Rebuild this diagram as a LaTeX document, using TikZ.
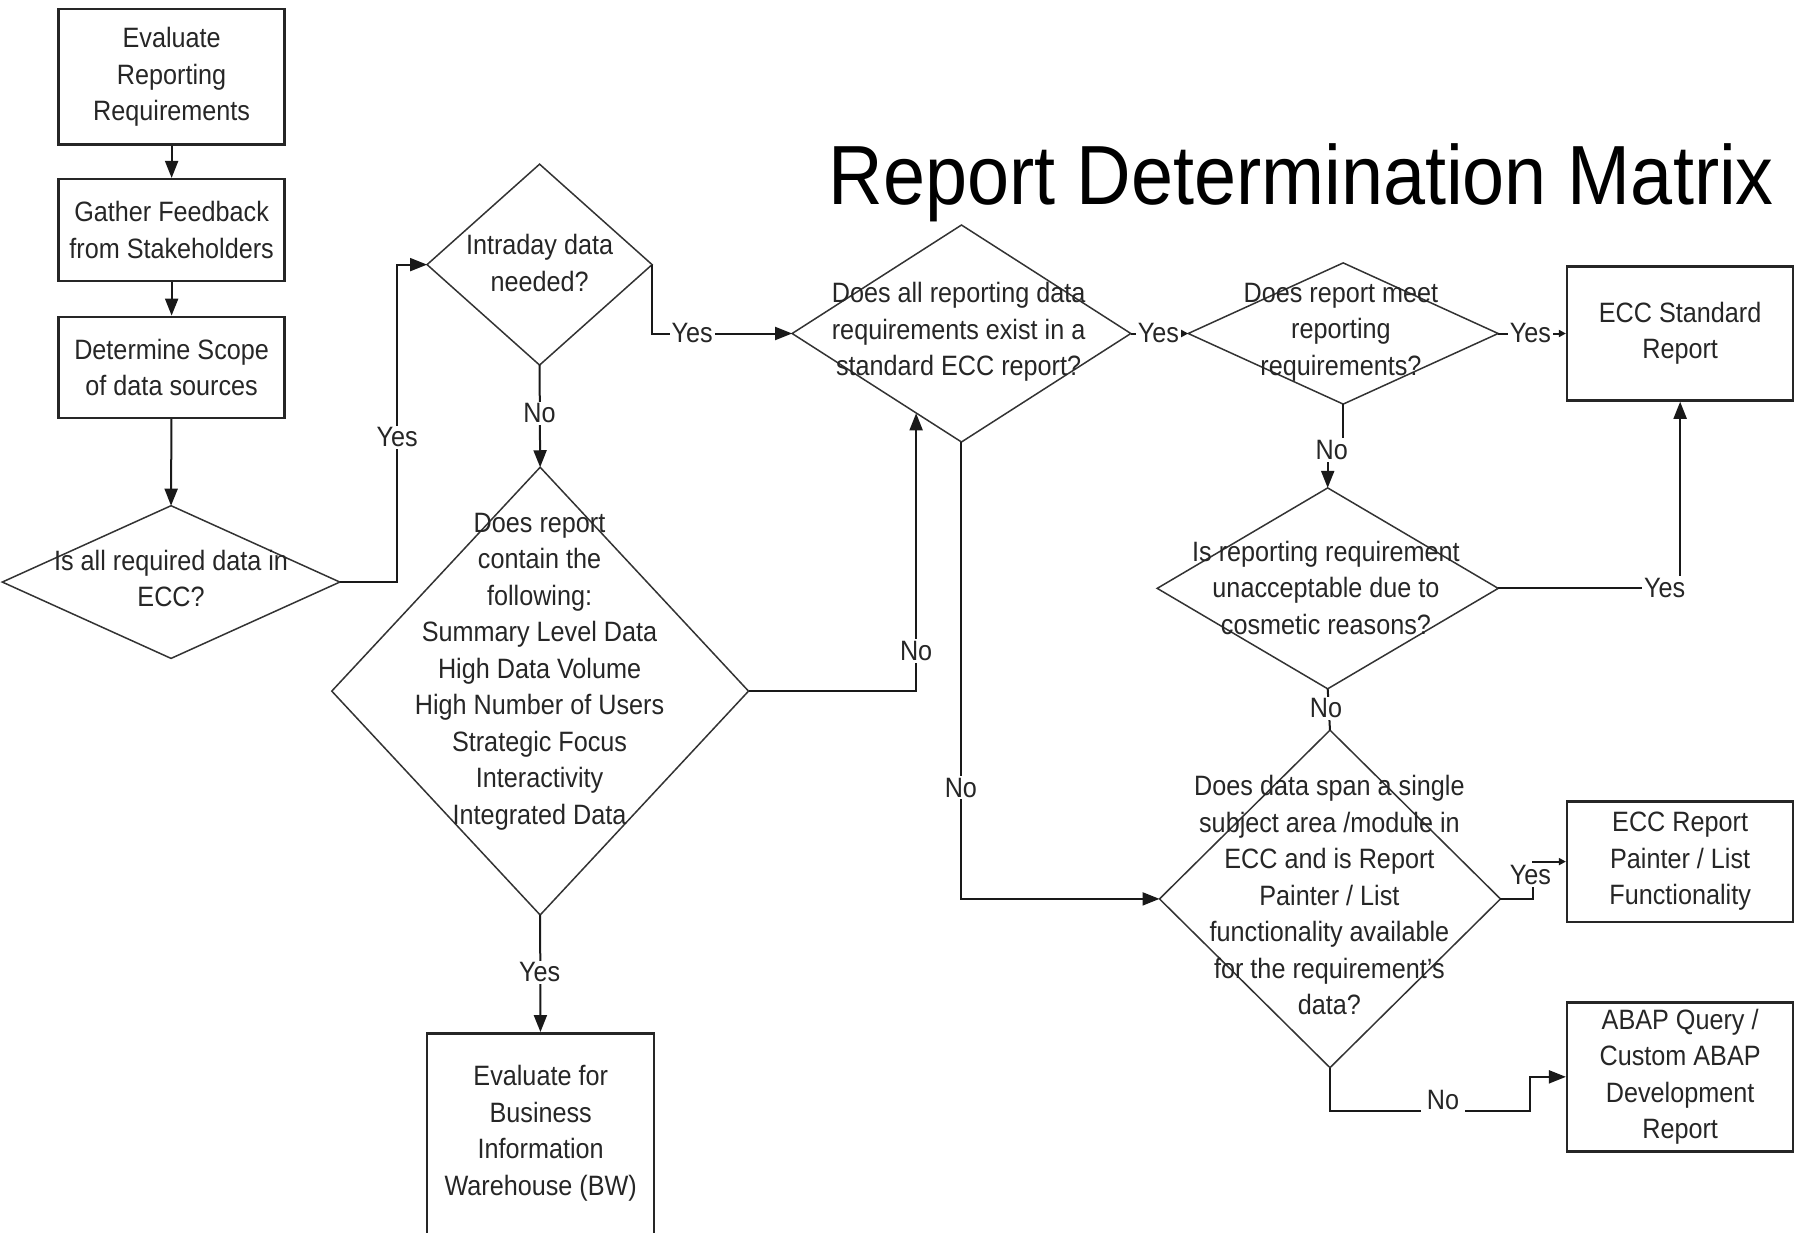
\documentclass[tikz,border=0pt]{standalone}
\usepackage{fontspec}
\setmainfont[FakeStretch=0.9]{Liberation Sans}
\usetikzlibrary{arrows.meta}
\newcommand\mydiamond[5]{%
  \coordinate (#1-c) at (#2,#3);
  \coordinate (#1-w) at ({#2-#4/2},#3);
  \coordinate (#1-e) at ({#2+#4/2},#3);
  \coordinate (#1-n) at (#2,{#3-#5/2});
  \coordinate (#1-s) at (#2,{#3+#5/2});
  \draw[dline] (#1-w) -- (#1-n) -- (#1-e) -- (#1-s) -- cycle;
}
\begin{document}
\begin{tikzpicture}[x=1.148pt,y=-1.148pt,
  txt/.style={font=\fontsize{28pt}{36.5pt}\selectfont, text=black!85, align=center, inner sep=0pt},
  box/.style={txt, draw=black!85, line width=2.5pt, minimum width=226pt},
  dline/.style={draw=black!80, line width=1.5pt, line join=miter},
  lin/.style={draw=black!90, line width=2pt},
  arr/.style={lin, -{Triangle[length=17pt,width=13pt]}},
  sarr/.style={lin, -{Triangle[length=7pt,width=7pt]}},
  lbl/.style={txt, fill=white, inner sep=2pt},
  ttl/.style={font=\fontsize{84pt}{90pt}\selectfont, text=black, inner sep=0pt}]
\useasboundingbox (0,0) rectangle (1565.3,1074);

% title
\node[ttl, anchor=base] (T) at (1133.5,178) {Report Determination Matrix};

% boxes
\node[box, minimum height=135.5pt] (B1) at (149.5,67) {Evaluate\\Reporting\\Requirements};
\node[box, minimum height=102pt] (B2) at (149.5,200.5) {Gather Feedback\\from Stakeholders};
\node[box, minimum height=101pt] (B3) at (149.5,320) {Determine Scope\\of data sources};
\node[box, minimum width=227pt, minimum height=218pt] (BW) at (471,995) {};
\node[txt] (BWt) at (471,987) {Evaluate for\\Business\\Information\\Warehouse (BW)};
\node[box, minimum height=134pt] (ECC) at (1463.5,290.5) {ECC Standard\\Report};
\node[box, minimum height=120.5pt] (PAI) at (1463.5,750.5) {ECC Report\\Painter / List\\Functionality};
\node[box, minimum height=149pt] (ABAP) at (1463.5,938) {ABAP Query /\\Custom ABAP\\Development\\Report};

% diamonds
\mydiamond{D1}{149}{507}{294}{133}
\mydiamond{D2}{470}{230.5}{196}{175}
\mydiamond{D3}{470.5}{602}{363}{390}
\mydiamond{D4}{837.5}{290.5}{295}{189}
\mydiamond{D5}{1170}{290.5}{270}{123}
\mydiamond{D6}{1156.5}{512.5}{297}{175}
\mydiamond{D7}{1158.5}{783}{297}{294}
\coordinate (D4-in) at (798,360);

\node[txt] (D1t) at (149,504) {Is all required data in\\ECC?};
\node[txt] (D2t) at (470,229) {Intraday data\\needed?};
\node[txt] (D3t) at (470,585) {Does report\\contain the\\following:\\Summary Level Data\\High Data Volume\\High Number of Users\\Strategic Focus\\Interactivity\\Integrated Data};
\node[txt] (D4t) at (835,289) {Does all reporting data\\requirements exist in a\\standard ECC report?};
\node[txt] (D5t) at (1168,289) {Does report meet\\reporting\\requirements?};
\node[txt] (D6t) at (1155,512) {Is reporting requirement\\unacceptable due to\\cosmetic reasons?};
\node[txt] (D7t) at (1158,780) {Does data span a single\\subject area /module in\\ECC and is Report\\Painter / List\\functionality available\\for the requirement's\\data?};

% connectors
\draw[arr] (B1) -- (B2);
\draw[arr] (B2) -- (B3);
\draw[arr] (B3) -- (D1-n);
\draw[arr] (D1-e) -- ++(50,0) |- (D2-w);
\draw[arr] (D2-s) -- (D3-n);
\draw[arr] (D2-e) |- (D4-w);
\draw[arr] (D3-e) -| (D4-in);
\draw[arr] (D3-s) -- (BW);
\draw[sarr] (D4-e) -- (D5-w);
\draw[sarr] (D5-e) -- (ECC);
\draw[arr] (D5-s) -- ++(0,39) -| (D6-n);
\draw[arr] (D6-e) -| (ECC);
\draw[lin] (D6-s) -- (D7-n);
\draw[arr] (D4-s) |- (D7-w);
\draw[sarr] (D7-e) -- ++(28,0) |- (PAI);
\draw[arr] (D7-s) |- (1333,968) |- (ABAP);

% labels
\node[lbl] (L1) at (346,381) {Yes};
\node[lbl] (L2) at (470,360) {No};
\node[lbl] (L3) at (603,290) {Yes};
\node[lbl] (L4) at (798,567) {No};
\node[lbl] (L5) at (470,847) {Yes};
\node[lbl] (L6) at (1009,290) {Yes};
\node[lbl] (L7) at (1333,290) {Yes};
\node[lbl] (L8) at (1160,392) {No};
\node[lbl] (L9) at (1450,512) {Yes};
\node[lbl] (L10) at (1155,617) {No};
\node[lbl] (L11) at (837,686) {No};
\node[lbl] (L12) at (1333,762) {Yes};
\node[lbl, inner sep=6pt] (L13) at (1257,958) {No};
\end{tikzpicture}
\end{document}
